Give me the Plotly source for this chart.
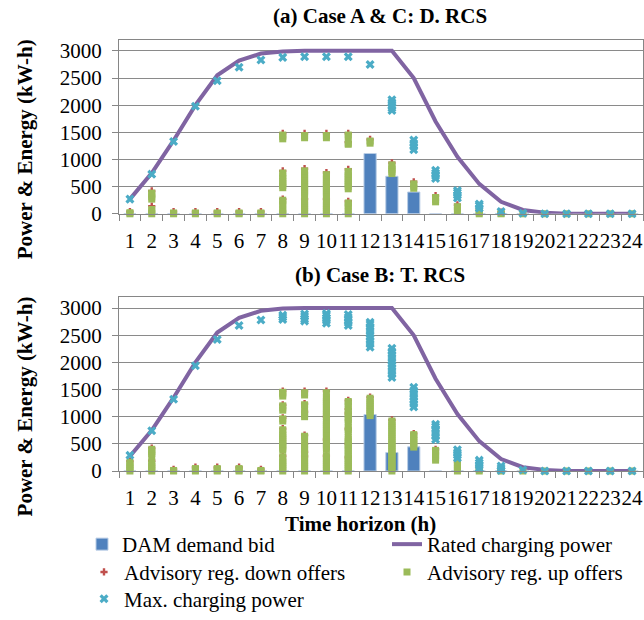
import plotly.graph_objects as go

# ---------------- data ----------------
hours = list(range(1, 25))
hour_labels = [str(h) for h in hours]
y_ticks = [0, 500, 1000, 1500, 2000, 2500, 3000]

rated_power = [270, 750, 1350, 2000, 2550, 2820, 2950, 2990, 3000, 3000, 3000, 3000,
               3000, 2500, 1700, 1050, 550, 220, 70, 20, 0, 0, 0, 0]

# Panel (a): Case A & C, D. RCS
dam_bid_a = [0, 0, 0, 0, 0, 0, 0, 0, 0, 0, 0, 1110, 690, 400, 0, 0, 0, 0, 0, 0, 0, 0, 0, 0]
reg_down_a = [
    [40], [140, 420], [40], [40], [40], [40], [40],
    [270, 790, 1480], [270, 830, 1480], [270, 760, 1480], [230, 820, 1320, 1480],
    [1370], [940], [590], [335], [165], [80], [30], [], [], [], [], [], [],
]
reg_up_a = [
    [0, 20], [0, 40, 80, 270, 310, 350, 380], [0, 15], [0, 15], [0, 15], [0, 15], [0, 15],
    [0, 40, 80, 170, 210, 250, 480, 520, 560, 600, 650, 700, 750, 1380, 1420, 1450],
    [0, 40, 80, 120, 160, 200, 240, 340, 380, 420, 460, 500, 540, 580, 620, 660, 700, 740, 790, 1400, 1440],
    [0, 40, 80, 120, 160, 200, 240, 320, 360, 400, 440, 480, 520, 560, 600, 640, 680, 720, 1400, 1440],
    [0, 40, 130, 160, 200, 460, 500, 540, 580, 620, 660, 700, 740, 780, 1280, 1300, 1420, 1450],
    [1300, 1340], [740, 780, 820, 860, 900], [470, 510, 550], [220, 260, 300], [60, 100, 130],
    [0, 30, 60], [0, 10], [0], [0], [0], [0], [0], [0],
]
max_charge_a = [
    [270], [730], [1330], [1980], [2450], [2700], [2830], [2880], [2890], [2890], [2890],
    [2750], [1900, 1950, 2000, 2050, 2100], [1180, 1240, 1300, 1360], [650, 700, 750, 800],
    [290, 340, 390, 430], [100, 150, 180], [40], [10], [0], [0], [0], [0], [0],
]

# Panel (b): Case B, T. RCS
dam_bid_b = [0, 0, 0, 0, 0, 0, 0, 0, 0, 0, 0, 1040, 340, 445, 0, 0, 0, 0, 0, 0, 0, 0, 0, 0]
reg_down_b = [
    [180], [190, 420], [30], [70], [70], [70], [30],
    [280, 780, 980, 1220, 1470], [270, 350, 500, 660, 1090, 1240, 1470],
    [280, 580, 1000, 1470], [250, 500, 780, 1060, 1140, 1300],
    [1360], [940], [690], [400], [175], [80], [30], [], [], [], [], [], [],
]
reg_up_b = [
    [0, 40, 80, 120, 160], [0, 40, 80, 120, 160, 280, 320, 360, 400], [0, 10],
    [0, 20, 45], [0, 20, 45], [0, 20, 45], [0, 10],
    [0, 40, 80, 120, 160, 200, 250, 380, 420, 460, 500, 540, 580, 620, 660, 700, 760,
     920, 960, 1120, 1160, 1200, 1380, 1420, 1450],
    [0, 40, 80, 120, 160, 200, 250, 290, 330, 400, 440, 480, 600, 640, 1000, 1040, 1070,
     1180, 1220, 1400, 1440],
    [0, 40, 80, 120, 160, 200, 240, 280, 400, 440, 480, 520, 560, 620, 660, 700, 740, 780,
     820, 860, 900, 940, 1000, 1040, 1080, 1120, 1160, 1200, 1240, 1280, 1320, 1360, 1440],
    [0, 40, 80, 120, 160, 200, 240, 280, 320, 380, 420, 460, 500, 540, 580, 620, 720, 760,
     800, 900, 940, 980, 1040, 1080, 1120, 1200, 1240, 1280],
    [1020, 1060, 1100, 1140, 1180, 1220, 1260, 1300, 1340],
    [0, 40, 80, 120, 160, 200, 240, 280, 320, 360, 400, 440, 480, 520, 560, 600, 640, 680,
     720, 760, 800, 840, 880, 920],
    [440, 480, 520, 560, 600, 640, 670], [200, 240, 280, 320, 360, 380], [0, 40, 80, 120, 160],
    [0, 30, 60], [0, 20], [0], [0], [0], [0], [0], [0],
]
max_charge_b = [
    [290], [740], [1320], [1940], [2420], [2680], [2780], [2790, 2830, 2870],
    [2760, 2800, 2850, 2890], [2720, 2770, 2820, 2870, 2900], [2680, 2730, 2780, 2830, 2880],
    [2280, 2340, 2400, 2460, 2520, 2580, 2640, 2700, 2740],
    [1720, 1780, 1840, 1900, 1960, 2020, 2080, 2140, 2200, 2260],
    [1180, 1240, 1300, 1360, 1420, 1480, 1540], [580, 640, 700, 760, 820, 860],
    [240, 290, 340, 390], [50, 100, 150, 200], [10, 50, 90], [20], [0], [0], [0], [0], [0],
]

# ---------------- styling ----------------
FONT = "Liberation Serif, Times New Roman, serif"
FS = 21
C_BAR = "#4F81BD"
C_LINE = "#8064A2"
C_DOWN = "#C0504D"
C_UP = "#9BBB59"
C_MAX = "#4BACC6"
C_AX = "#868686"


def flatten(per_hour):
    xs, ys = [], []
    for h, vals in zip(hours, per_hour):
        for v in vals:
            xs.append(h)
            ys.append(v)
    return xs, ys


fig = go.Figure()
panels = [
    ("x", "y", dam_bid_a, reg_down_a, reg_up_a, max_charge_a, True),
    ("x2", "y2", dam_bid_b, reg_down_b, reg_up_b, max_charge_b, False),
]
for xa, ya, bid, rdown, rup, mx, show in panels:
    fig.add_trace(go.Bar(x=hours, y=bid, name="DAM demand bid", width=0.56,
                         marker=dict(color=C_BAR, line=dict(color="#B9CDE5", width=1)),
                         xaxis=xa, yaxis=ya, showlegend=show, legend="legend"))
    fig.add_trace(go.Scatter(x=hours, y=rated_power, mode="lines", name="Rated charging power",
                             line=dict(color=C_LINE, width=4), xaxis=xa, yaxis=ya,
                             showlegend=show, legend="legend2", cliponaxis=False))
    dx, dy = flatten(rdown)
    fig.add_trace(go.Scatter(x=dx, y=dy, mode="markers", name="Advisory reg. down offers",
                             marker=dict(color=C_DOWN, symbol="cross", size=6),
                             xaxis=xa, yaxis=ya, showlegend=show, legend="legend3",
                             cliponaxis=False))
    ux, uy = flatten(rup)
    fig.add_trace(go.Scatter(x=ux, y=uy, mode="markers", name="Advisory reg. up offers",
                             marker=dict(color=C_UP, symbol="square", size=7),
                             xaxis=xa, yaxis=ya, showlegend=show, legend="legend4",
                             cliponaxis=False))
    mxx, mxy = flatten(mx)
    fig.add_trace(go.Scatter(x=mxx, y=mxy, mode="markers", name="Max. charging power",
                             marker=dict(color=C_MAX, symbol="x", size=8),
                             xaxis=xa, yaxis=ya, showlegend=show, legend="legend5",
                             cliponaxis=False))

minor_pos = [h - 0.5 for h in hours] + [24.5]
xaxis_common = dict(range=[0.5, 24.5], tickmode="array", tickvals=hours, ticktext=hour_labels,
                    ticks="outside", ticklen=8, tickcolor="rgba(0,0,0,0)", tickangle=0,
                    showline=True, linecolor=C_AX, linewidth=1, mirror=True,
                    showgrid=False, zeroline=False,
                    tickfont=dict(family=FONT, size=FS, color="black"),
                    minor=dict(tickmode="array", tickvals=minor_pos, ticks="outside",
                               ticklen=6, tickcolor=C_AX, showgrid=False))
yaxis_common = dict(range=[0, 3200], tickmode="array", tickvals=y_ticks,
                    ticks="outside", ticklen=6, tickcolor=C_AX, ticklabelstandoff=6,
                    showline=True, linecolor=C_AX, linewidth=1, mirror=True,
                    showgrid=True, gridcolor="#8a8a8a", gridwidth=1, zeroline=False,
                    tickfont=dict(family=FONT, size=FS, color="black"))


def legend_at(x, y):
    return dict(x=x, y=y, xanchor="left", yanchor="middle", bgcolor="rgba(0,0,0,0)",
                font=dict(family=FONT, size=FS, color="black"), itemwidth=30)


# pixel -> paper helpers for positions (plot area: x 119..643, y 40..474)
def px(xp):
    return (xp - 119) / 524


def py(yp):
    return (474 - yp) / 434


fig.update_layout(
    width=644, height=620,
    margin=dict(l=119, r=1, t=40, b=146),
    plot_bgcolor="white", paper_bgcolor="white",
    font=dict(family=FONT, size=FS, color="black"),
    barmode="overlay",
    xaxis=dict(**xaxis_common, domain=[0, 1], anchor="y"),
    yaxis=dict(**yaxis_common, domain=[0.5968, 1], anchor="x"),
    xaxis2=dict(**xaxis_common, domain=[0, 1], anchor="y2"),
    yaxis2=dict(**yaxis_common, domain=[0, 0.4032], anchor="x2"),
    legend=legend_at(px(82), py(548)),
    legend2=legend_at(px(387), py(548)),
    legend3=legend_at(px(84), py(576)),
    legend4=legend_at(px(387), py(576)),
    legend5=legend_at(px(84), py(603)),
    annotations=[
        dict(text="<b>(a) Case A &amp; C: D. RCS</b>", xref="paper", yref="paper",
             x=px(380), y=py(16), xanchor="center", yanchor="middle", showarrow=False,
             font=dict(family=FONT, size=FS)),
        dict(text="<b>(b) Case B: T. RCS</b>", xref="paper", yref="paper",
             x=px(380), y=py(277), xanchor="center", yanchor="middle", showarrow=False,
             font=dict(family=FONT, size=FS)),
        dict(text="<b>Power &amp; Energy (kW-h)</b>", xref="paper", yref="paper",
             x=px(25), y=py(150), xanchor="center", yanchor="middle", textangle=-90,
             showarrow=False, font=dict(family=FONT, size=FS)),
        dict(text="<b>Power &amp; Energy (kW-h)</b>", xref="paper", yref="paper",
             x=px(25), y=py(409), xanchor="center", yanchor="middle", textangle=-90,
             showarrow=False, font=dict(family=FONT, size=FS)),
        dict(text="<b>Time horizon (h)</b>", xref="paper", yref="paper",
             x=px(360), y=py(527), xanchor="center", yanchor="middle", showarrow=False,
             font=dict(family=FONT, size=FS)),
    ],
)

fig.write_html("out.html")
